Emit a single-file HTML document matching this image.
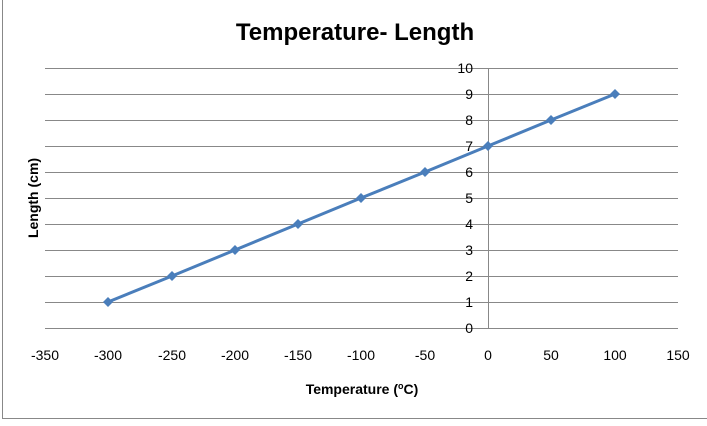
<!DOCTYPE html>
<html><head><style>body{margin:0;background:#fff}</style></head><body>
<svg width="707" height="421" xmlns="http://www.w3.org/2000/svg" font-family="Liberation Sans, Arial, sans-serif">
<rect x="0" y="0" width="707" height="421" fill="#fff"/>
<path d="M2.5 0V418.5H707" stroke="#888" fill="none"/>
<text x="355" y="40" text-anchor="middle" font-size="24" font-weight="bold">Temperature- Length</text>
<g stroke="#888" stroke-width="1">
<line x1="45" x2="678" y1="68.5" y2="68.5"/><line x1="45" x2="678" y1="94.5" y2="94.5"/>
<line x1="45" x2="678" y1="120.5" y2="120.5"/><line x1="45" x2="678" y1="146.5" y2="146.5"/>
<line x1="45" x2="678" y1="172.5" y2="172.5"/><line x1="45" x2="678" y1="198.5" y2="198.5"/>
<line x1="45" x2="678" y1="224.5" y2="224.5"/><line x1="45" x2="678" y1="250.5" y2="250.5"/>
<line x1="45" x2="678" y1="276.5" y2="276.5"/><line x1="45" x2="678" y1="302.5" y2="302.5"/>
<line x1="45" x2="678" y1="328.5" y2="328.5"/>
<line x1="488.5" x2="488.5" y1="68" y2="328"/>
</g>
<g font-size="14" text-anchor="end">
<text x="473" y="73">10</text><text x="473" y="99">9</text><text x="473" y="125">8</text>
<text x="473" y="151">7</text><text x="473" y="177">6</text><text x="473" y="203">5</text>
<text x="473" y="229">4</text><text x="473" y="255">3</text><text x="473" y="281">2</text>
<text x="473" y="307">1</text><text x="473" y="333">0</text>
</g>
<g font-size="14" text-anchor="middle">
<text x="45" y="360">-350</text><text x="108" y="360">-300</text><text x="172" y="360">-250</text>
<text x="235" y="360">-200</text><text x="298" y="360">-150</text><text x="361" y="360">-100</text>
<text x="425" y="360">-50</text><text x="488" y="360">0</text><text x="551" y="360">50</text>
<text x="615" y="360">100</text><text x="678" y="360">150</text>
</g>
<text x="362" y="394" text-anchor="middle" font-size="14" font-weight="bold">Temperature (<tspan font-size="9" dy="-5">o</tspan><tspan dy="5">C)</tspan></text>
<text transform="translate(38,198) rotate(-90)" text-anchor="middle" font-size="14" font-weight="bold">Length (cm)</text>
<polyline points="108,302 172,276 235,250 298,224 361,198 425,172 488,146 551,120 615,94" fill="none" stroke="#4a7ebb" stroke-width="3"/>
<g fill="#4a7ebb">
<path d="M108 297l5 5-5 5-5-5z"/><path d="M172 271l5 5-5 5-5-5z"/><path d="M235 245l5 5-5 5-5-5z"/>
<path d="M298 219l5 5-5 5-5-5z"/><path d="M361 193l5 5-5 5-5-5z"/><path d="M425 167l5 5-5 5-5-5z"/>
<path d="M488 141l5 5-5 5-5-5z"/><path d="M551 115l5 5-5 5-5-5z"/><path d="M615 89l5 5-5 5-5-5z"/>
</g>
</svg>
</body></html>
